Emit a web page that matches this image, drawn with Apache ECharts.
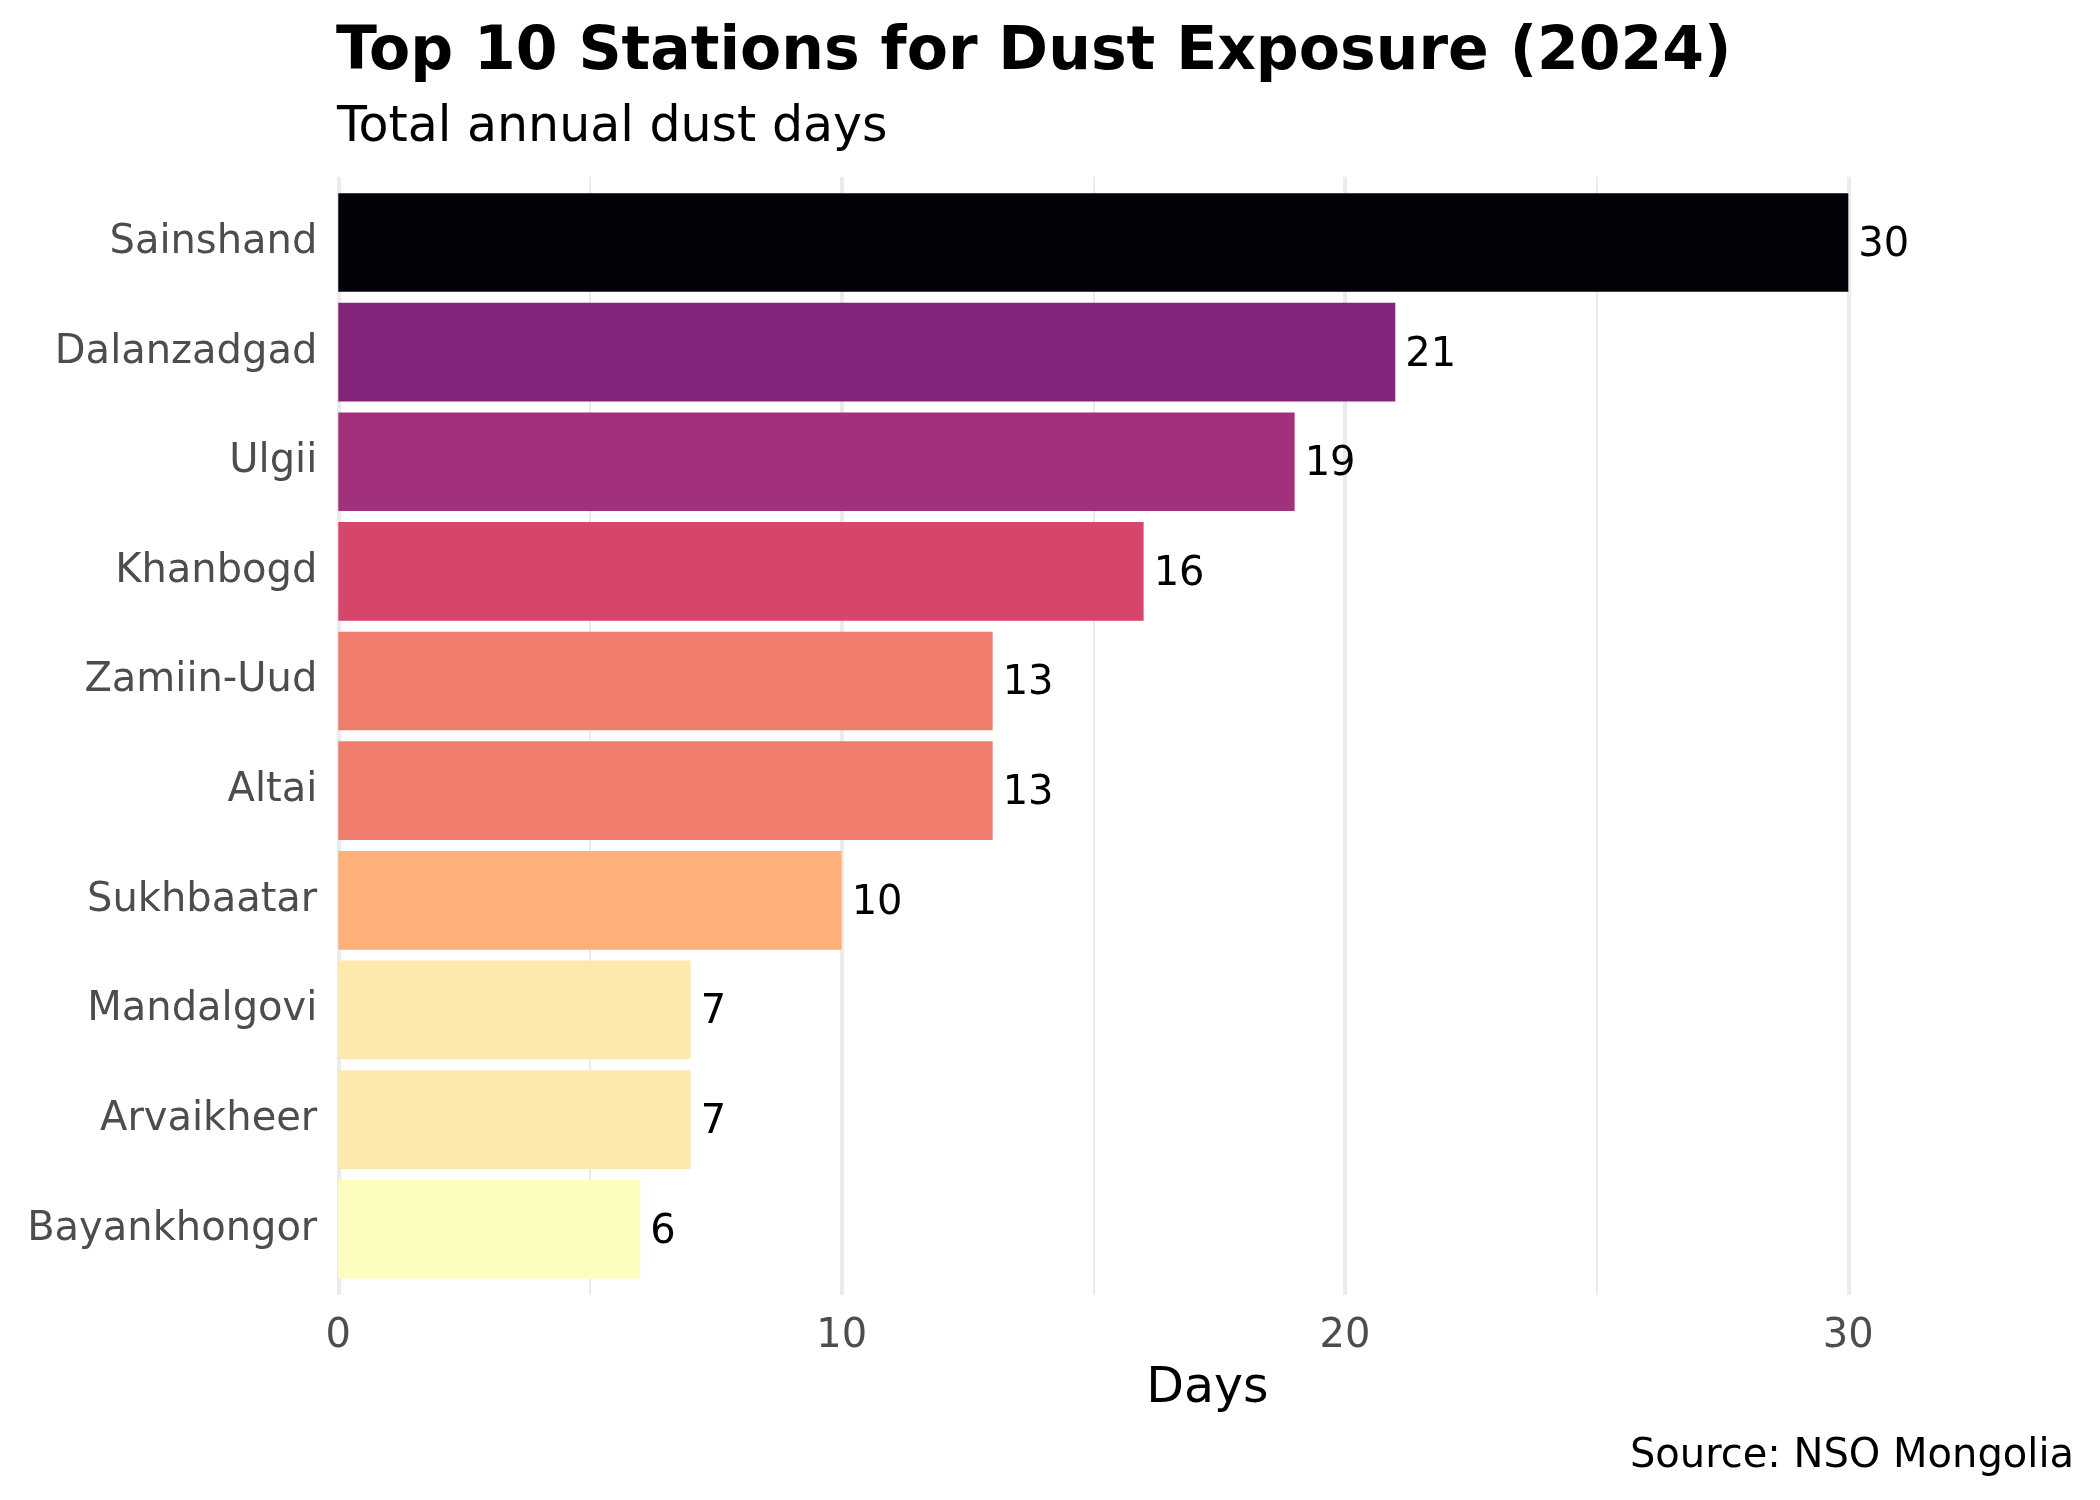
<!DOCTYPE html>
<html>
<head>
<meta charset="utf-8">
<script src="https://cdn.jsdelivr.net/npm/echarts@6/dist/echarts.min.js"></script>
<style>
html,body{margin:0;padding:0;background:#fff;}
#chart{width:2100px;height:1500px;}
</style>
</head>
<body>
<div id="chart"></div>
<script>
const stations = ['Sainshand','Dalanzadgad','Ulgii','Khanbogd','Zamiin-Uud','Altai','Sukhbaatar','Mandalgovi','Arvaikheer','Bayankhongor'];
const dustDays = [30, 21, 19, 16, 13, 13, 10, 7, 7, 6];
const barColors = ['#020108','#822479','#a3307d','#d8456b','#f07c6e','#f07c6e','#feaf7a','#fde9ac','#fde9ac','#fcfdbf'];
const xTicks = {min: 0, max: 30, interval: 10};
const titleText = 'Top 10 Stations for Dust Exposure (2024)';
const subtitleText = 'Total annual dust days';
const sourceText = 'Source: NSO Mongolia';
const xName = 'Days';

const FONT = 'DejaVu Sans';
const chart = echarts.init(document.getElementById('chart'), null, {renderer: 'canvas', width: 2100, height: 1500});

const plotLeft = 338.3, plotRightX = 1848.3;
const panelTop = 176.7, panelBottom = 1295;
const band = (panelBottom - panelTop) / 10.2;
const barTop = panelTop + 0.1 * band;
const barHeight = band * 10;

chart.setOption({
  backgroundColor: '#ffffff',
  animation: false,
  title: [
    {text: titleText, left: 336, top: 23, padding: 0,
     textStyle: {fontFamily: FONT, fontSize: 60, fontWeight: 'bold', color: '#000', lineHeight: 60}},
    {text: subtitleText, left: 337, top: 104, padding: 0,
     textStyle: {fontFamily: FONT, fontSize: 49, fontWeight: 'normal', color: '#000', lineHeight: 49}},
    {text: sourceText, right: 26, top: 1437, padding: 0,
     textStyle: {fontFamily: FONT, fontSize: 40, fontWeight: 'normal', color: '#000', lineHeight: 40}}
  ],
  grid: [
    {left: plotLeft, width: plotRightX - plotLeft, top: barTop, height: barHeight, containLabel: false},
    {left: plotLeft, width: plotRightX - plotLeft, top: panelTop, height: panelBottom - panelTop, containLabel: false}
  ],
  xAxis: [
    {
      type: 'value', gridIndex: 0, min: xTicks.min, max: xTicks.max, interval: xTicks.interval,
      axisLine: {show: false}, axisTick: {show: false}, splitLine: {show: false},
      axisLabel: {fontFamily: FONT, fontSize: 40, color: '#4d4d4d', margin: panelBottom - (barTop + barHeight) + 22},
      name: xName, nameLocation: 'middle', nameGap: panelBottom - (barTop + barHeight) + 70,
      nameMoveOverlap: false,
      nameTextStyle: {fontFamily: FONT, fontSize: 49, color: '#000', lineHeight: 49, padding: [0, 0, 0, 228]}
    },
    {
      type: 'value', gridIndex: 1, min: xTicks.min, max: xTicks.max, interval: xTicks.interval,
      axisLine: {show: false}, axisTick: {show: false}, axisLabel: {show: false},
      splitLine: {show: true, lineStyle: {color: '#ebebeb', width: 4}},
      minorTick: {show: false, splitNumber: 2},
      minorSplitLine: {show: true, lineStyle: {color: '#ebebeb', width: 2}}
    }
  ],
  yAxis: [
    {
      type: 'category', gridIndex: 0, data: stations, inverse: true,
      axisLine: {show: false}, axisTick: {show: false}, splitLine: {show: false},
      axisLabel: {fontFamily: FONT, fontSize: 40, color: '#4d4d4d', margin: 21, padding: [7, 0, 0, 0]}
    },
    {
      type: 'value', gridIndex: 1, show: false, min: 0, max: 1,
      splitLine: {show: false}
    }
  ],
  series: [
    {
      type: 'bar', xAxisIndex: 0, yAxisIndex: 0, barWidth: '90%',
      data: dustDays.map((v, i) => ({value: v, itemStyle: {color: barColors[i]}})),
      label: {show: true, position: 'right', distance: 10, offset: [0, 3], fontFamily: FONT, fontSize: 40, color: '#000'},
      z: 3
    }
  ]
});
</script>
</body>
</html>
